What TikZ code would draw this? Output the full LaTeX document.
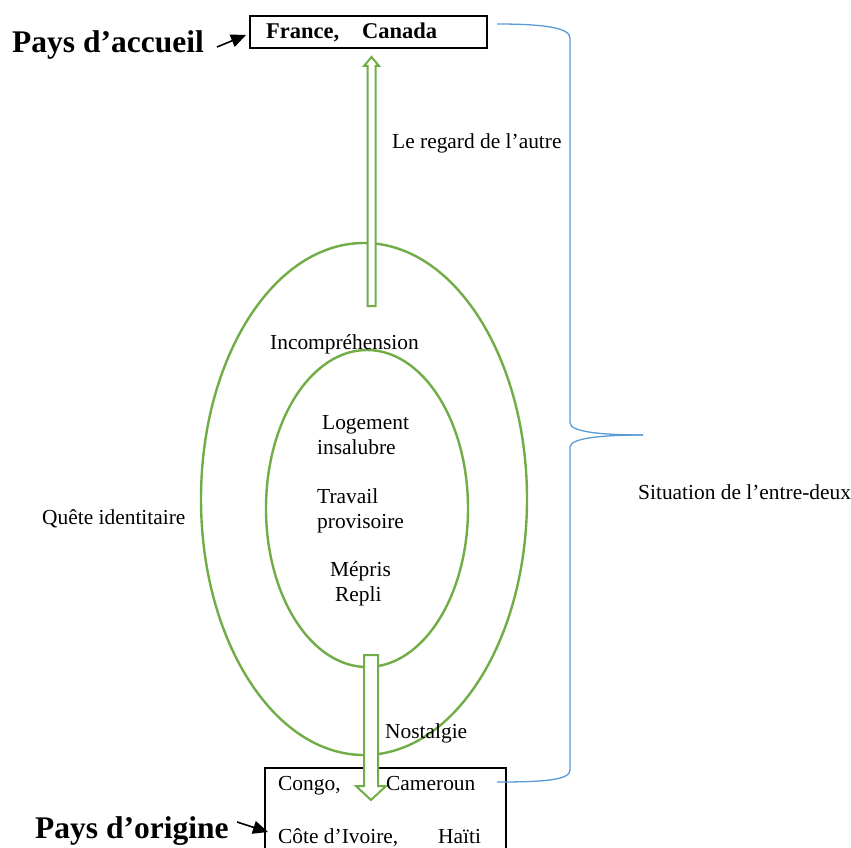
\documentclass[tikz,border=0pt]{standalone}
\usepackage{fontspec}
\setmainfont{Liberation Serif}
\usetikzlibrary{arrows.meta}
\definecolor{ogreen}{RGB}{112,173,71}
\definecolor{oblue}{RGB}{91,155,213}
\begin{document}
\begin{tikzpicture}[x=1pt,y=-1pt,
  txt/.style={font=\fontsize{21.4}{24}\selectfont, inner sep=0pt, anchor=base west},
  bold/.style={font=\fontsize{22.5}{24}\selectfont\bfseries, inner sep=0pt, anchor=base west},
  big/.style={font=\fontsize{31.5}{34}\selectfont\bfseries, inner sep=0pt, anchor=base west},
  boxb/.style={draw=black, line width=2pt},
  ell/.style={draw=ogreen, line width=2.4pt},
  hollow/.style={draw=ogreen, line width=2pt, fill=white, line join=miter},
  brace/.style={draw=oblue, line width=1.3pt},
  pointer/.style={draw=black, line width=1.6pt, -{Triangle[length=15pt,width=13pt]}}]
\clip (0,0) rectangle (851,848);
\fill[white] (0,0) rectangle (851,848);
% ellipses
\draw[ell] (364,499) ellipse [x radius=163, y radius=256];
\draw[ell] (367,508.5) ellipse [x radius=101, y radius=158.5];
% boxes
\node[boxb, minimum width=237pt, minimum height=32pt, inner sep=0pt] (top) at (368.5,32) {};
\node[boxb, minimum width=241pt, minimum height=120pt, inner sep=0pt, anchor=north west] (bot) at (264,767) {};
% hollow arrows
\draw[hollow] (367.5,306) -- (367.5,66) -- (364,66) -- (371.5,57) -- (379,66) -- (375.5,66) -- (375.5,306) -- cycle;
\draw[hollow] (364,655) -- (378,655) -- (378,786) -- (386,786) -- (371,800) -- (356,786) -- (364,786) -- cycle;
% texts
\node[bold] (fr) at (266,39) {France,};
\node[bold] (ca) at (362,39) {Canada};
\node[big] (pa) at (12,53) {Pays d’accueil};
\node[big] (po) at (35,838) {Pays d’origine};
\node[txt] (lr) at (392,149) {Le regard de l’autre};
\node[txt] (inc) at (270,349) {Incompréhension};
\node[txt] (lg) at (322,429) {Logement};
\node[txt] (ins) at (317,454) {insalubre};
\node[txt] (tr) at (317,503) {Travail};
\node[txt] (pr) at (317,528) {provisoire};
\node[txt] (me) at (330,576) {Mépris};
\node[txt] (re) at (335,601) {Repli};
\node[txt] (qi) at (42,524) {Quête identitaire};
\node[txt] (no) at (385,738) {Nostalgie};
\node[txt] (si) at (638,499) {Situation de l’entre-deux};
\node[txt] (co) at (278,790) {Congo,};
\node[txt] (cm) at (386,790) {Cameroun};
\node[txt] (ci) at (278,843) {Côte d’Ivoire,};
\node[txt] (ha) at (438,843) {Haïti};
% pointers
\coordinate (pa1) at (217,47);
\coordinate (pa2) at (246,35);
\coordinate (po1) at (237,822);
\coordinate (po2) at (268,832);
\draw[pointer] (pa1) -- (pa2);
\draw[pointer] (po1) -- (po2);
% brace
\coordinate (b1) at (497,24);
\coordinate (b2) at (643,435);
\coordinate (b3) at (497,782);
\draw[brace] (b1) .. controls (545,24) and (570,28) .. (570,38) -- (570,423) .. controls (570,433) and (610,435) .. (b2);
\draw[brace] (b2) .. controls (610,435) and (570,437) .. (570,447) -- (570,770) .. controls (570,780) and (545,782) .. (b3);
\end{tikzpicture}
\end{document}
